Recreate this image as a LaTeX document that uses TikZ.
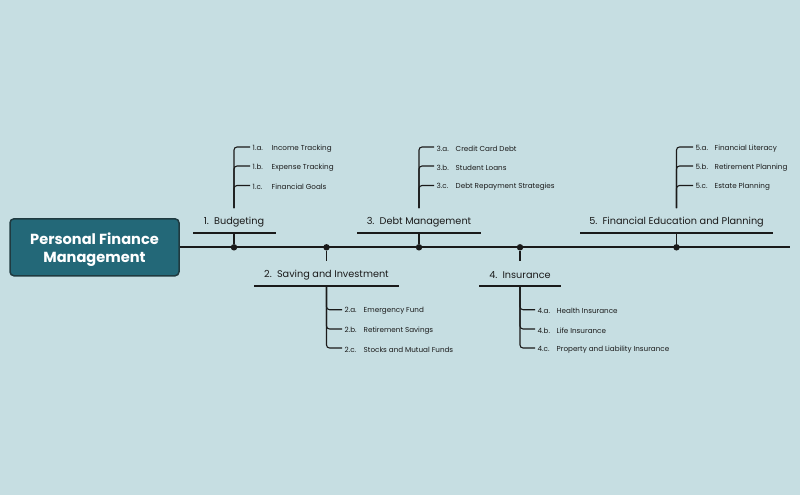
\documentclass[tikz,border=0pt]{standalone}
\usepackage{fontspec}
\setmainfont{Poppins}
\definecolor{bg}{HTML}{C6DEE2}
\definecolor{rootfill}{HTML}{236878}
\definecolor{rootline}{HTML}{1F3A40}
\definecolor{ink}{HTML}{1A1A1A}
\begin{document}
\begin{tikzpicture}[x=1pt,y=-1pt,
  spine/.style={draw=ink,line width=2.2pt},
  bar/.style={draw=ink,line width=2pt},
  stem/.style={draw=ink,line width=1.6pt},
  twig/.style={draw=ink,line width=1.1pt,rounded corners=3pt},
  dot/.style={circle,fill=ink,inner sep=0pt,minimum size=6.5pt},
  lbl/.style={font=\fontsize{9.7}{11}\selectfont,text=ink,inner sep=0pt},
  sub/.style={font=\fontsize{7.2}{8}\selectfont,text=ink,anchor=west,inner xsep=2.5pt,inner ysep=0pt},
  root/.style={draw=rootline,line width=1.5pt,fill=rootfill,rounded corners=4pt,text=white,
    font=\fontsize{14.6}{18.5}\selectfont\bfseries,align=center,minimum width=169pt,minimum height=57pt,inner sep=0pt}]
\newcommand{\num}[1]{\makebox[19pt][l]{#1}}
\fill[bg] (0,0) rectangle (800,495);
\useasboundingbox (0,0) rectangle (800,495);
% root and spine
\node[root] (root) at (94.5,247.3) {};
\node[text=white,font=\fontsize{14.6}{18.5}\selectfont\bfseries,align=center,inner sep=0pt] (roottext) at (94.5,249.5) {Personal Finance\\Management};
\coordinate (end) at (790,247.3);
\draw[spine] (root.east) -- (end);
% dots
\node[dot] (d1) at (234,247.3) {};
\node[dot] (d2) at (326.5,247.3) {};
\node[dot] (d3) at (419,247.3) {};
\node[dot] (d4) at (520,247.3) {};
\node[dot] (d5) at (676.5,247.3) {};
% ---- branch 1 (top)
\node[lbl] (l1) at (234,222) {1.\ \ Budgeting};
\coordinate (u1a) at (193,232.5); \coordinate (u1b) at (276,232.5);
\coordinate (s1) at (234,232.5); \coordinate (t1) at (234,208);
\draw[bar] (u1a) -- (u1b);
\draw[stem] (s1) -- (d1);
\node[sub] (a1) at (250,148.5) {\num{1.a.}Income Tracking};
\node[sub] (b1) at (250,167.5) {\num{1.b.}Expense Tracking};
\node[sub] (c1) at (250,187) {\num{1.c.}Financial Goals};
\draw[twig] (t1) |- ([yshift=1.5pt]a1.west);
\draw[twig] (t1) |- ([yshift=1.5pt]b1.west);
\draw[twig] (t1) |- ([yshift=1.5pt]c1.west);
% ---- branch 2 (bottom)
\coordinate (s2) at (326.5,261);
\draw[stem] (d2) -- (s2);
\node[lbl] (l2) at (326.5,275) {2.\ \ Saving and Investment};
\coordinate (u2a) at (254,286); \coordinate (u2b) at (399,286);
\coordinate (t2) at (326.5,286);
\draw[bar] (u2a) -- (u2b);
\node[sub] (a2) at (342,311.2) {\num{2.a.}Emergency Fund};
\node[sub] (b2) at (342,330.5) {\num{2.b.}Retirement Savings};
\node[sub] (c2) at (342,349.5) {\num{2.c.}Stocks and Mutual Funds};
\draw[twig] (t2) |- ([yshift=1.5pt]a2.west);
\draw[twig] (t2) |- ([yshift=1.5pt]b2.west);
\draw[twig] (t2) |- ([yshift=1.5pt]c2.west);
% ---- branch 3 (top)
\node[lbl] (l3) at (419,222) {3.\ \ Debt Management};
\coordinate (u3a) at (357,232.5); \coordinate (u3b) at (481,232.5);
\coordinate (s3) at (419,232.5); \coordinate (t3) at (419,208);
\draw[bar] (u3a) -- (u3b);
\draw[stem] (s3) -- (d3);
\node[sub] (a3) at (434,148.5) {\num{3.a.}Credit Card Debt};
\node[sub] (b3) at (434,167.5) {\num{3.b.}Student Loans};
\node[sub] (c3) at (434,187) {\num{3.c.}Debt Repayment Strategies};
\draw[twig] (t3) |- ([yshift=1.5pt]a3.west);
\draw[twig] (t3) |- ([yshift=1.5pt]b3.west);
\draw[twig] (t3) |- ([yshift=1.5pt]c3.west);
% ---- branch 4 (bottom)
\coordinate (s4) at (520,261);
\draw[stem] (d4) -- (s4);
\node[lbl] (l4) at (520,275) {4.\ \ Insurance};
\coordinate (u4a) at (479,286); \coordinate (u4b) at (561,286);
\coordinate (t4) at (520,286);
\draw[bar] (u4a) -- (u4b);
\node[sub] (a4) at (535,311.2) {\num{4.a.}Health Insurance};
\node[sub] (b4) at (535,330.5) {\num{4.b.}Life Insurance};
\node[sub] (c4) at (535,349.5) {\num{4.c.}Property and Liability Insurance};
\draw[twig] (t4) |- ([yshift=1.5pt]a4.west);
\draw[twig] (t4) |- ([yshift=1.5pt]b4.west);
\draw[twig] (t4) |- ([yshift=1.5pt]c4.west);
% ---- branch 5 (top)
\node[lbl] (l5) at (676.5,222) {5.\ \ Financial Education and Planning};
\coordinate (u5a) at (580,232.5); \coordinate (u5b) at (773,232.5);
\coordinate (s5) at (676.5,232.5); \coordinate (t5) at (676.5,208);
\draw[bar] (u5a) -- (u5b);
\draw[stem] (s5) -- (d5);
\node[sub] (a5) at (693,148.5) {\num{5.a.}Financial Literacy};
\node[sub] (b5) at (693,167.5) {\num{5.b.}Retirement Planning};
\node[sub] (c5) at (693,187) {\num{5.c.}Estate Planning};
\draw[twig] (t5) |- ([yshift=1.5pt]a5.west);
\draw[twig] (t5) |- ([yshift=1.5pt]b5.west);
\draw[twig] (t5) |- ([yshift=1.5pt]c5.west);
\end{tikzpicture}
\end{document}
